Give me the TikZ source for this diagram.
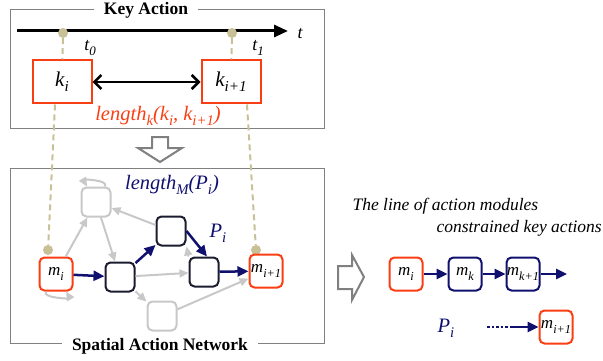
\documentclass[tikz,border=0pt]{standalone}
\usepackage{fontspec}
\setmainfont{Liberation Serif}
\usetikzlibrary{arrows.meta,positioning,shapes}

\definecolor{keyred}{RGB}{250,62,20}
\definecolor{pathblue}{RGB}{16,16,110}
\definecolor{boxdark}{RGB}{28,28,48}
\definecolor{netgray}{RGB}{200,200,200}
\definecolor{guidetan}{RGB}{200,193,152}
\definecolor{framegray}{RGB}{128,128,128}

\newcommand{\pxfont}[1]{\fontsize{#1}{#1}\selectfont}
\newcommand{\lowsub}[1]{\raisebox{-0.55ex}{\scalebox{0.72}{#1}}}

\begin{document}
\begin{tikzpicture}[x=1pt,y=1pt,
    panel/.style={draw=framegray,line width=1pt},
    panel title/.style={fill=white,inner sep=1pt,inner xsep=10pt,font=\pxfont{17.5}\bfseries},
    key box/.style={draw=keyred,line width=2pt,fill=white,minimum width=59pt,
                    minimum height=43pt,font=\pxfont{21}\itshape},
    module/.style={draw,rounded corners=5pt,line width=2pt,fill=white,
                   minimum size=29pt,inner sep=0pt,font=\pxfont{17}\itshape},
    start module/.style={module,draw=keyred,minimum size=33pt},
    path module/.style={module,draw=pathblue,minimum size=33pt},
    free module/.style={module,draw=netgray},
    used module/.style={module,draw=boxdark},
    dot/.style={circle,fill=guidetan,inner sep=0pt,minimum size=10pt},
    guide/.style={draw=guidetan,line width=2pt,dash pattern=on 6pt off 4pt},
    gray edge/.style={color=netgray,line width=2pt,-{Triangle[length=9pt,width=8pt]}},
    blue edge/.style={color=pathblue,line width=2.5pt,-{Triangle[length=11pt,width=10pt]}},
    hollow/.style={draw=framegray,line width=2pt,fill=white},
    math text/.style={font=\pxfont{20.5}\itshape},
    plain text/.style={font=\pxfont{17.5}\itshape,anchor=west}
  ]
  \useasboundingbox (0,0) rectangle (603,-361);

  % key actions on the time line
  \draw[panel] (10,-10) rectangle (324,-128);
  \node[panel title] (keytitle) at (146,-10) {Key Action};
  \coordinate (tstart) at (17,-31);
  \coordinate (tend) at (288,-31);
  \draw[line width=3pt,-{Triangle[length=14pt,width=12pt]}] (tstart) -- (tend);
  \node[font=\pxfont{18}\itshape] (tlabel) at (300,-34) {t};
  \node[dot] (t0) at (63,-33) {};
  \node[dot] (t1) at (232,-33) {};
  \node[font=\pxfont{18}\itshape] (t0label) at (90,-48) {t\lowsub{0}};
  \node[font=\pxfont{18}\itshape] (t1label) at (258,-48) {t\lowsub{1}};
  \node[key box] (ki) at (62,-82) {k\lowsub{i}};
  \node[key box] (kj) at (231,-82) {k\lowsub{i+1}};
  \draw[line width=2.5pt,{Straight Barb[length=7pt,width=14pt]}-{Straight Barb[length=7pt,width=14pt]}]
    (ki) -- (kj);
  \node[math text,text=keyred] (lenk) at (158,-116)
    {length\lowsub{k}(k\lowsub{i}, k\lowsub{i+1})};

  \draw[hollow] (152,-137) -- (168,-137) -- (168,-148) -- (182,-148)
    -- (160,-162) -- (138,-148) -- (152,-148) -- cycle;

  % network of action modules
  \draw[panel] (10,-168) rectangle (324,-343);
  \node[panel title] (nettitle) at (160,-346) {Spatial Action Network};
  \node[dot] (midot) at (48,-250) {};
  \node[dot] (mjdot) at (256,-250) {};
  \node[start module] (mi) at (56,-274) {m\lowsub{i}};
  \node[used module] (ma) at (120,-277) {};
  \node[used module] (mb) at (171,-231) {};
  \node[used module] (mc) at (204,-272) {};
  \node[start module] (mj) at (266,-271) {m\lowsub{i+1}};
  \node[free module] (mg) at (96,-202) {};
  \node[free module] (mh) at (162,-316) {};

  \draw[guide] (t0) -- (ki);
  \draw[guide] ([xshift=-7pt]ki.south) -- (midot);
  \draw[guide] (t1) -- (kj);
  \draw[guide] ([xshift=16pt]kj.south) -- (mjdot);

  \path[gray edge]
    (mi) edge (mg)
    (mg) edge (ma)
    (mb) edge (mg)
    (ma) edge (mc)
    (mc.north west) edge (mb.south east)
    (ma) edge (mh)
    (mh) edge (mj)
    (mg) edge[out=60,in=120,min distance=8pt] (mg)
    (mi) edge[out=240,in=300,min distance=8pt] (mi);
  \path[blue edge]
    (mi) edge (ma)
    (ma) edge (mb)
    (mb.east) edge ([xshift=3pt]mc.north)
    (mc) edge (mj);
  \node[math text,text=pathblue] (lenm) at (172,-185)
    {length\lowsub{M}(P\lowsub{i})};
  \node[math text,text=pathblue] (pi) at (218,-233) {P\lowsub{i}};

  % resulting line of modules
  \draw[hollow] (338,-266) -- (352,-266) -- (352,-255) -- (364,-277)
    -- (352,-300) -- (352,-289) -- (338,-289) -- cycle;
  \node[plain text] (line1) at (349,-206) {The line of action modules};
  \node[plain text] (line2) at (433,-228) {constrained key actions};
  \node[start module] (rmi) at (406,-274) {m\lowsub{i}};
  \node[path module] (rmk) at (465,-274) {m\lowsub{k}};
  \node[path module] (rmk1) at (523,-274) {m\lowsub{k+1}};
  \coordinate (rend) at (567,-274);
  \path[blue edge]
    (rmi) edge (rmk)
    (rmk) edge (rmk1)
    (rmk1) edge (rend);
  \node[math text,text=pathblue] (rpi) at (446,-328) {P\lowsub{i}};
  \node[start module] (rmj) at (556,-327) {m\lowsub{i+1}};
  \coordinate (dotstart) at (487,-327);
  \coordinate (dotend) at (512,-327);
  \draw[pathblue,line width=2.5pt,dash pattern=on 2.5pt off 2pt] (dotstart) -- (dotend);
  \path[blue edge] (dotend) edge (rmj);
\end{tikzpicture}
\end{document}
